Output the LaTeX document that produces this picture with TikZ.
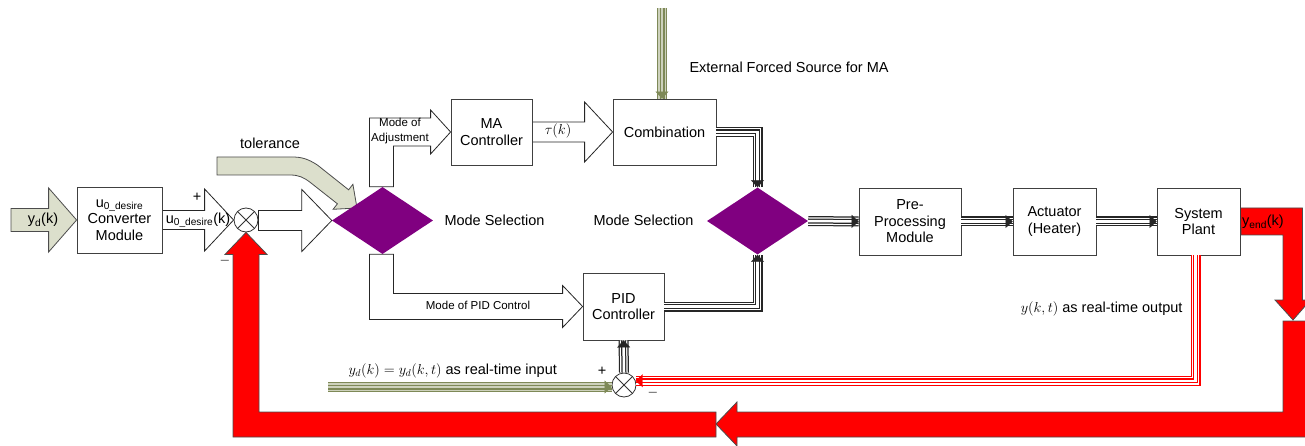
\documentclass[tikz,border=0pt]{standalone}
\usepackage{fontspec}
\setmainfont{Liberation Sans}
\usetikzlibrary{arrows.meta,positioning,shapes.geometric,calc,backgrounds,decorations.markings}
\definecolor{sage}{HTML}{DCDFCC}
\definecolor{olivebus}{HTML}{7E8957}
\definecolor{olivegap}{HTML}{CDD1BC}
\definecolor{modesel}{HTML}{800080}
\definecolor{fbred}{HTML}{FF0000}

\tikzset{
  base/.style={font=\fontsize{14.5}{16.5}\selectfont},
  small/.style={font=\fontsize{11.5}{15}\selectfont},
  block/.style={base, draw=black!75, line width=0.8pt, fill=white, align=center, minimum height=66pt, inner sep=2pt},
  selector/.style={diamond, fill=modesel, minimum width=101pt, minimum height=67pt, inner sep=0pt, aspect=1.5},
  summer/.style={circle, draw=black!80, line width=0.8pt, fill=white, minimum size=24pt, inner sep=0pt,
    path picture={\draw[black!80, line width=0.8pt]
      (path picture bounding box.south west) -- (path picture bounding box.north east)
      (path picture bounding box.north west) -- (path picture bounding box.south east);}},
  hollow/.style={draw=black!85, line width=0.8pt, fill=white},
  sagearrow/.style={draw=black!70, line width=0.8pt, fill=sage},
  redarrow/.style={draw=black!70, line width=0.8pt, fill=fbred},
  bus/.style 2 args={line width=10pt, draw=#1,
    postaction={draw=#2, line width=7.5pt},
    postaction={draw=#1, line width=5pt},
    postaction={draw=#2, line width=2.5pt},
    postaction={decorate, decoration={markings, mark=at position 1 with
      {\arrow{Triangle[length=7pt, width=13pt, line width=0.4pt, color=#1, fill=#1]}}}}},
}

% flat block arrow: style, from, to, shaft half, head half, head length
\newcommand{\flatarrow}[6]{%
  \filldraw[#1] ($(#2 |- #3)+(0,-#4)$) -- ($(#3)+(-#6,-#4)$) -- ($(#3)+(-#6,-#5)$) -- (#3)
    -- ($(#3)+(-#6,#5)$) -- ($(#3)+(-#6,#4)$) -- ($(#2 |- #3)+(0,#4)$) -- cycle;}

\begin{document}
\begin{tikzpicture}[x=1pt, y=-1pt]
  \useasboundingbox (0,0) rectangle (1305,446);
  \clip (0,0) rectangle (1305,446);

  % blocks
  \node[block, minimum width=85pt] (conv) at (119.5,220) {u\textsubscript{0\_desire}\\Converter\\Module};
  \node[summer] (sum1) at (246,220) {};
  \node[selector] (dm1) at (382.5,220.5) {};
  \node[block, minimum width=81pt] (mac) at (491.5,132) {MA\\Controller};
  \node[block, minimum width=103pt] (comb) at (664.5,132) {Combination};
  \node[block, minimum width=81pt, minimum height=67pt] (pid) at (623.5,306.5) {PID\\Controller};
  \node[selector] (dm2) at (757.5,221) {};
  \node[block, minimum width=102pt, minimum height=67pt] (pre) at (910,221.5) {Pre-\\Processing\\Module};
  \node[block, minimum width=83pt, minimum height=67pt] (act) at (1054.5,221.5) {Actuator\\(Heater)};
  \node[block, minimum width=83pt, minimum height=67pt] (plant) at (1198.5,221.5) {System\\Plant};
  \node[summer] (sum2) at (624,385) {};

  \coordinate (src) at (11,220);
  \coordinate (ext) at (662,8);
  \coordinate (ydin) at (328,387);
  \coordinate (drop) at (1293,320);
  \coordinate (turn) at (716,424);

  % block arrows behind the blocks
  \begin{scope}[on background layer]
    \flatarrow{sagearrow}{src}{conv.west}{11.5}{32}{28}
    \flatarrow{hollow}{conv.east}{sum1.west}{9.5}{31}{29}
    \flatarrow{hollow}{sum1.east}{dm1.west}{10}{31}{30}
    \flatarrow{hollow}{mac.east}{comb.west}{10}{30}{28}
    % tolerance
    \filldraw[sagearrow] (217,157) -- (292,157) .. controls (302,157) and (308,159) .. (317.4,165)
      -- (348.6,189.8) -- (352.9,184.3) -- (357,208) -- (333.1,209.3) -- (337.4,203.8)
      -- (311,183) .. controls (304,177.5) and (299,175) .. (290,175) -- (217,175) -- cycle;
    % mode of adjustment
    \filldraw[hollow] ($(dm1.north)+(-13,0)$) |- ($(mac.west)+(-20,-14)$) -- ++(0,-8) -- (mac.west)
      -- ++(-20,22) -- ++(0,-8) -| ($(dm1.north)+(11,0)$) -- cycle;
    % mode of PID control
    \filldraw[hollow] ($(dm1.south)+(-13,0)$) |- ($(pid.west)+(-20,13)$) -- ++(0,8) -- (pid.west)
      -- ++(-20,-21) -- ++(0,8) -| ($(dm1.south)+(11,0)$) -- cycle;
    % feedback
    \filldraw[redarrow] ($(plant.east)+(0,-13.5)$) -- ++(62,0) -- ++(0,92) -- ++(8,0) -- (drop)
      -- ++(-18,-20) -- ++(8,0) -- ++(0,-65) -- ++(-42,0) -- cycle;
    \filldraw[redarrow] ($(drop)+(-10,1)$) |- ($(turn)+(21,-12)$) -- ++(0,-10) -- (turn)
      -- ++(21,22) -- ++(0,-9) -| ($(drop)+(13,1)$) -- cycle;
    \filldraw[redarrow] ($(turn)+(0,-12)$) -| ($(sum1.south)+(13,22)$) -- ++(8,0) -- (sum1.south)
      -- ++(-21,22) -- ++(8,0) |- ($(turn)+(0,13)$) -- cycle;
  \end{scope}

  % signal buses
  \draw[bus={black!85}{white}] (comb.east) -| (dm2.north);
  \draw[bus={black!85}{white}] (pid.east) -| (dm2.south);
  \draw[bus={black!85}{white}] (dm2.east) -- (pre.west);
  \draw[bus={black!85}{white}] (pre.east) -- (act.west);
  \draw[bus={black!85}{white}] (act.east) -- (plant.west);
  \draw[bus={black!85}{white}] (sum2.north) -- (pid.south);
  \draw[bus={olivebus}{olivegap}] (ext) -- (ext |- comb.north);
  \draw[bus={olivebus}{olivegap}] (ydin) -- (sum2.west |- ydin);
  \draw[bus={fbred}{white}] ($(plant.south)+(-3,0)$) |- (sum2.20);

  % labels
  \node[base] (lyd) at (43,220) {y\textsubscript{d}(k)};
  \node[base] (lud) at (198,220) {u\textsubscript{0\_desire}(k)};
  \node[base] (lplus1) at (197,197) {+};
  \node[base, text=black!60] (lminus1) at (225,262) {\textendash};
  \node[base] (ltol) at (270,143) {tolerance};
  \node[small, align=center] (ladj) at (400,131) {Mode of\\Adjustment};
  \node[base] (ltau) at (558,131) {$\tau(k)$};
  \node[base, anchor=west] (lext) at (686,67) {External Forced Source for MA};
  \node[base, anchor=west] (lsel1) at (441,220) {Mode Selection};
  \node[base, anchor=east] (lsel2) at (697,220) {Mode Selection};
  \node[small] (lpid) at (478,305) {Mode of PID Control};
  \node[base, anchor=west] (lin) at (345,371) {$y_d(k)=y_d(k,t)$ as real-time input};
  \node[base] (lplus2) at (602,371) {+};
  \node[base, text=black!60] (lminus2) at (653,394) {\textendash};
  \node[base, anchor=east] (lout) at (1186,309) {$y(k,t)$ as real-time output};
  \node[base] (lyend) at (1263,222) {y\textsubscript{end}(k)};
\end{tikzpicture}
\end{document}
